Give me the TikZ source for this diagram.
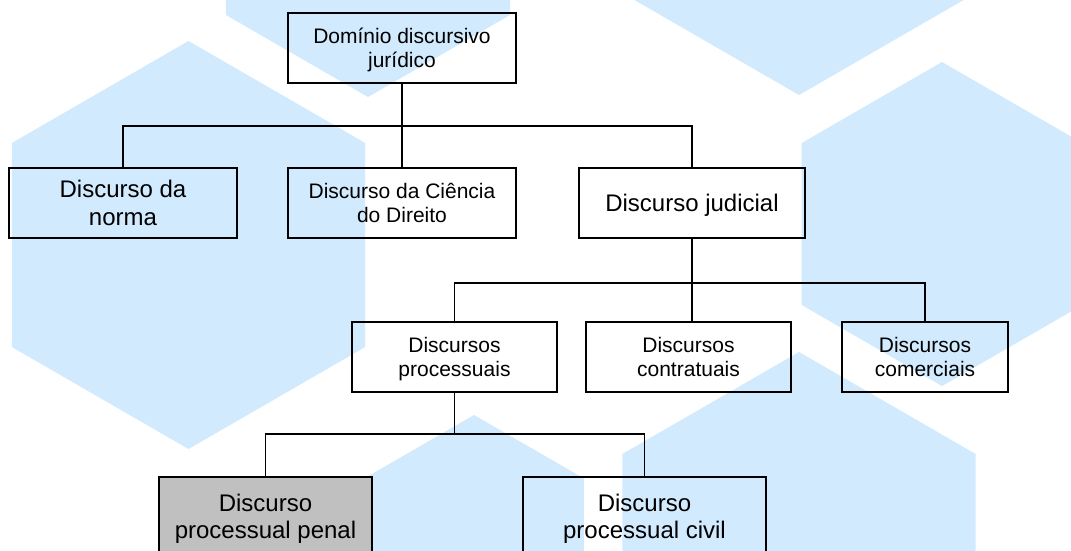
\documentclass[tikz,border=0pt]{standalone}
\usepackage{fontspec}
\setmainfont{Liberation Sans}
\definecolor{hexblue}{RGB}{209,234,253}
\definecolor{penalgray}{RGB}{192,192,192}
\newcommand\lstrut{\rule[-0.2em]{0pt}{1.116em}}
\newcommand\hexagonfill[3]{%
  \fill[hexblue] (#1,{#2-#3}) -- ++({0.866*#3},{0.5*#3}) -- ++(0,#3)
    -- ++({-0.866*#3},{0.5*#3}) -- ++({-0.866*#3},{-0.5*#3}) -- ++(0,{-#3}) -- cycle;}
\tikzset{
  box/.style={draw=black, line width=1.5pt, rectangle, inner sep=0pt, align=center, text=black},
  fsmall/.style={font=\fontsize{21}{24.15}\selectfont},
  flarge/.style={font=\fontsize{24}{27.6}\selectfont},
  conn/.style={draw=black, line width=1.5pt},
}
\begin{document}
\begin{tikzpicture}[x=1pt, y=-1pt]
\useasboundingbox (0,0) rectangle (1071,550);
\clip (0,0) rectangle (1071,550);
\fill[white] (0,0) rectangle (1071,550);
% background hexagons
\hexagonfill{188.5}{245}{204}
\hexagonfill{368}{-67}{164}
\hexagonfill{799}{-109}{204}
\hexagonfill{942}{224}{162}
\hexagonfill{799}{556}{204}
\hexagonfill{474}{542}{127}
% nodes
\node[box, fsmall, minimum width=228pt, minimum height=70pt] (top) at (402,48) {\lstrut Domínio discursivo\\\lstrut jurídico};
\node[box, flarge, minimum width=228pt, minimum height=70pt] (norma) at (123,203) {\lstrut Discurso da\\\lstrut norma};
\node[box, fsmall, minimum width=228pt, minimum height=70pt] (cien) at (402,203) {\lstrut Discurso da Ciência\\\lstrut do Direito};
\node[box, flarge, minimum width=226pt, minimum height=70pt] (jud) at (692,203) {\lstrut Discurso judicial};
\node[box, fsmall, minimum width=205pt, minimum height=70pt] (proc) at (454.5,357) {\lstrut Discursos\\\lstrut processuais};
\node[box, fsmall, minimum width=205pt, minimum height=70pt] (contr) at (688.5,357) {\lstrut Discursos\\\lstrut contratuais};
\node[box, fsmall, minimum width=166pt, minimum height=70pt] (com) at (925,357) {\lstrut Discursos\\\lstrut comerciais};
\node[box, flarge, fill=penalgray, minimum width=213pt, minimum height=79pt] (penal) at (265.5,516.5) {\lstrut Discurso\\\lstrut processual penal};
\node[box, flarge, minimum width=243pt, minimum height=79pt] (civil) at (644.5,516.5) {\lstrut Discurso\\\lstrut processual civil};
% junction coordinates
\coordinate (bar1) at (402,126);
\coordinate (bar2) at (692,283);
\coordinate (bar3) at (454.5,434);
% connectors
\draw[conn] (top.south) -- (bar1);
\draw[conn] (bar1) -| (norma.north);
\draw[conn] (bar1) -- (cien.north);
\draw[conn] (bar1) -| (jud.north);
\draw[conn] (jud.south) -- (bar2);
\draw[conn] (bar2) -| (proc.north);
\draw[conn] (bar2) -- (bar2 |- contr.north);
\draw[conn] (bar2) -| (com.north);
\draw[conn] (proc.south) -- (bar3);
\draw[conn] (bar3) -| (penal.north);
\draw[conn] (bar3) -| (civil.north);
\end{tikzpicture}
\end{document}
